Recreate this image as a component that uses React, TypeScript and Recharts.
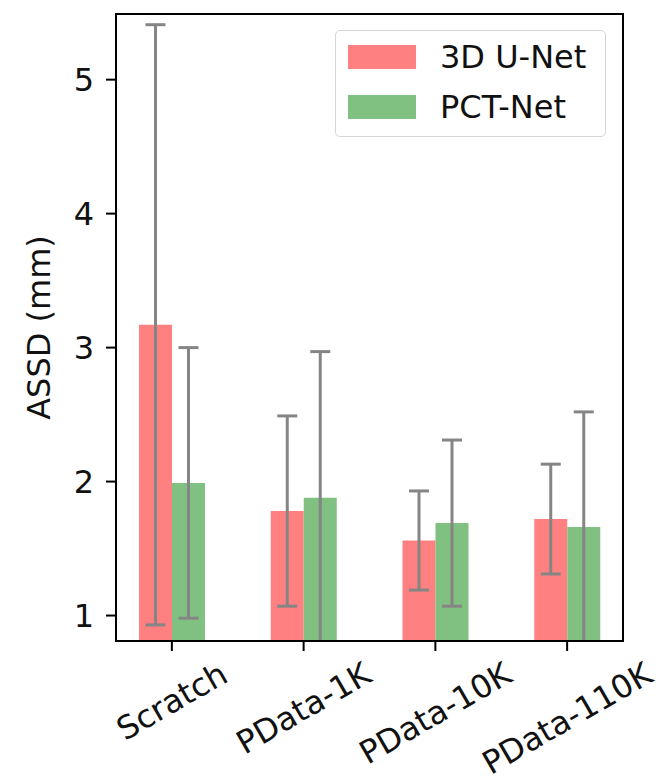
import React from "react";
import * as R from "recharts";
import { BarChart, Bar, XAxis, YAxis, ErrorBar, Legend } from "recharts";

const categories = ["Scratch", "PData-1K", "PData-10K", "PData-110K"];
const unetMean = [3.17, 1.78, 1.56, 1.72];
const unetStd = [2.24, 0.71, 0.37, 0.41];
const pctMean = [1.99, 1.88, 1.69, 1.66];
const pctStd = [1.01, 1.09, 0.62, 0.86];
const yTicks = [1, 2, 3, 4, 5];
const yDomain = [0.81, 5.49];

const data = categories.map((name, i) => ({
  name,
  unet: unetMean[i],
  unetErr: unetStd[i],
  pct: pctMean[i],
  pctErr: pctStd[i],
}));

const FONT = '"DejaVu Sans", "Liberation Sans", sans-serif';
const FS = 32;
const RED = "#ff8080";
const GREEN = "#80c080";
const ERR = "#858585";

let ctx: CanvasRenderingContext2D | null = null;
function textWidth(s: string, size: number) {
  if (!ctx) ctx = document.createElement("canvas").getContext("2d");
  if (!ctx) return s.length * size * 0.6;
  ctx.font = `${size}px "DejaVu Sans"`;
  return ctx.measureText(s).width;
}

const XTick = (props: any) => {
  const { x, y, payload } = props;
  const w = textWidth(payload.value, FS);
  const h = FS * 1.16;
  const H = w * 0.5 + h * 0.866;
  const cy = y + 2 + H / 2;
  return (
    <text
      x={x}
      y={cy}
      textAnchor="middle"
      dominantBaseline="central"
      fontSize={FS}
      fontFamily={FONT}
      fill="#111"
      transform={`rotate(-30 ${x} ${cy})`}
    >
      {payload.value}
    </text>
  );
};

// frame (top/right spines) and clip region for the error bars, from the plot area
const PlotFrame = () => {
  const area = (R as any).usePlotArea ? (R as any).usePlotArea() : null;
  if (!area) return null;
  return (
    <g>
      <defs>
        <clipPath id="plotClip">
          <rect x={area.x} y={area.y} width={area.width} height={area.height} />
        </clipPath>
      </defs>
      <rect
        x={area.x}
        y={area.y}
        width={area.width}
        height={area.height}
        fill="none"
        stroke="#000"
        strokeWidth={2}
      />
    </g>
  );
};

const renderLegend = () => (
  <div
    style={{
      border: "1.5px solid #d6d6d6",
      borderRadius: 5,
      background: "#fff",
      width: 271,
      height: 107,
      boxSizing: "border-box",
      fontFamily: FONT,
      fontSize: FS,
      color: "#111",
      position: "relative",
    }}
  >
    {[
      { label: "3D U-Net", color: RED, top: 14 },
      { label: "PCT-Net", color: GREEN, top: 64 },
    ].map((it) => (
      <div key={it.label}>
        <div
          style={{
            position: "absolute",
            left: 12,
            top: it.top,
            width: 68,
            height: 24,
            background: it.color,
          }}
        />
        <div
          style={{
            position: "absolute",
            left: 104,
            top: it.top - 8,
            lineHeight: "40px",
            whiteSpace: "nowrap",
          }}
        >
          {it.label}
        </div>
      </div>
    ))}
  </div>
);

export default function App() {
  return (
    <div
      style={{
        position: "absolute",
        left: 0,
        top: 0,
        width: 659,
        height: 783,
        background: "#fff",
      }}
    >
      <BarChart
        width={659}
        height={783}
        data={data}
        margin={{ top: 14, right: 36, bottom: 12, left: 16 }}
        barGap={0}
      >
        <PlotFrame />
        <XAxis
          dataKey="name"
          height={130}
          padding={{ left: -10, right: -10 }}
          tickSize={10}
          axisLine={{ stroke: "#000", strokeWidth: 2 }}
          tickLine={{ stroke: "#000", strokeWidth: 2 }}
          tick={<XTick />}
          interval={0}
        />
        <YAxis
          width={100}
          domain={yDomain}
          ticks={yTicks}
          allowDataOverflow
          tickSize={10}
          tickMargin={12}
          axisLine={{ stroke: "#000", strokeWidth: 2 }}
          tickLine={{ stroke: "#000", strokeWidth: 2 }}
          tick={{ fontSize: FS, fontFamily: FONT, fill: "#111" }}
          label={(p: any) => {
            const vb = p.viewBox;
            const cx = vb.x + 23;
            const cy = vb.y + vb.height / 2;
            return (
              <text
                x={cx}
                y={cy}
                textAnchor="middle"
                dominantBaseline="central"
                fontSize={FS}
                fontFamily={FONT}
                fill="#111"
                transform={`rotate(-90 ${cx} ${cy})`}
              >
                ASSD (mm)
              </text>
            );
          }}
        />
        <Legend
          layout="horizontal"
          verticalAlign="middle"
          align="center"
          content={renderLegend}
          wrapperStyle={{ position: "absolute", left: 335, top: 30, width: 271 }}
        />
        <Bar dataKey="unet" name="3D U-Net" fill={RED} barSize={33} isAnimationActive={false}>
          <ErrorBar
            dataKey="unetErr"
            width={10}
            stroke={ERR}
            strokeWidth={3}
            direction="y"
            clipPath="url(#plotClip)"
          />
        </Bar>
        <Bar dataKey="pct" name="PCT-Net" fill={GREEN} barSize={33} isAnimationActive={false}>
          <ErrorBar
            dataKey="pctErr"
            width={10}
            stroke={ERR}
            strokeWidth={3}
            direction="y"
            clipPath="url(#plotClip)"
          />
        </Bar>
      </BarChart>
    </div>
  );
}
